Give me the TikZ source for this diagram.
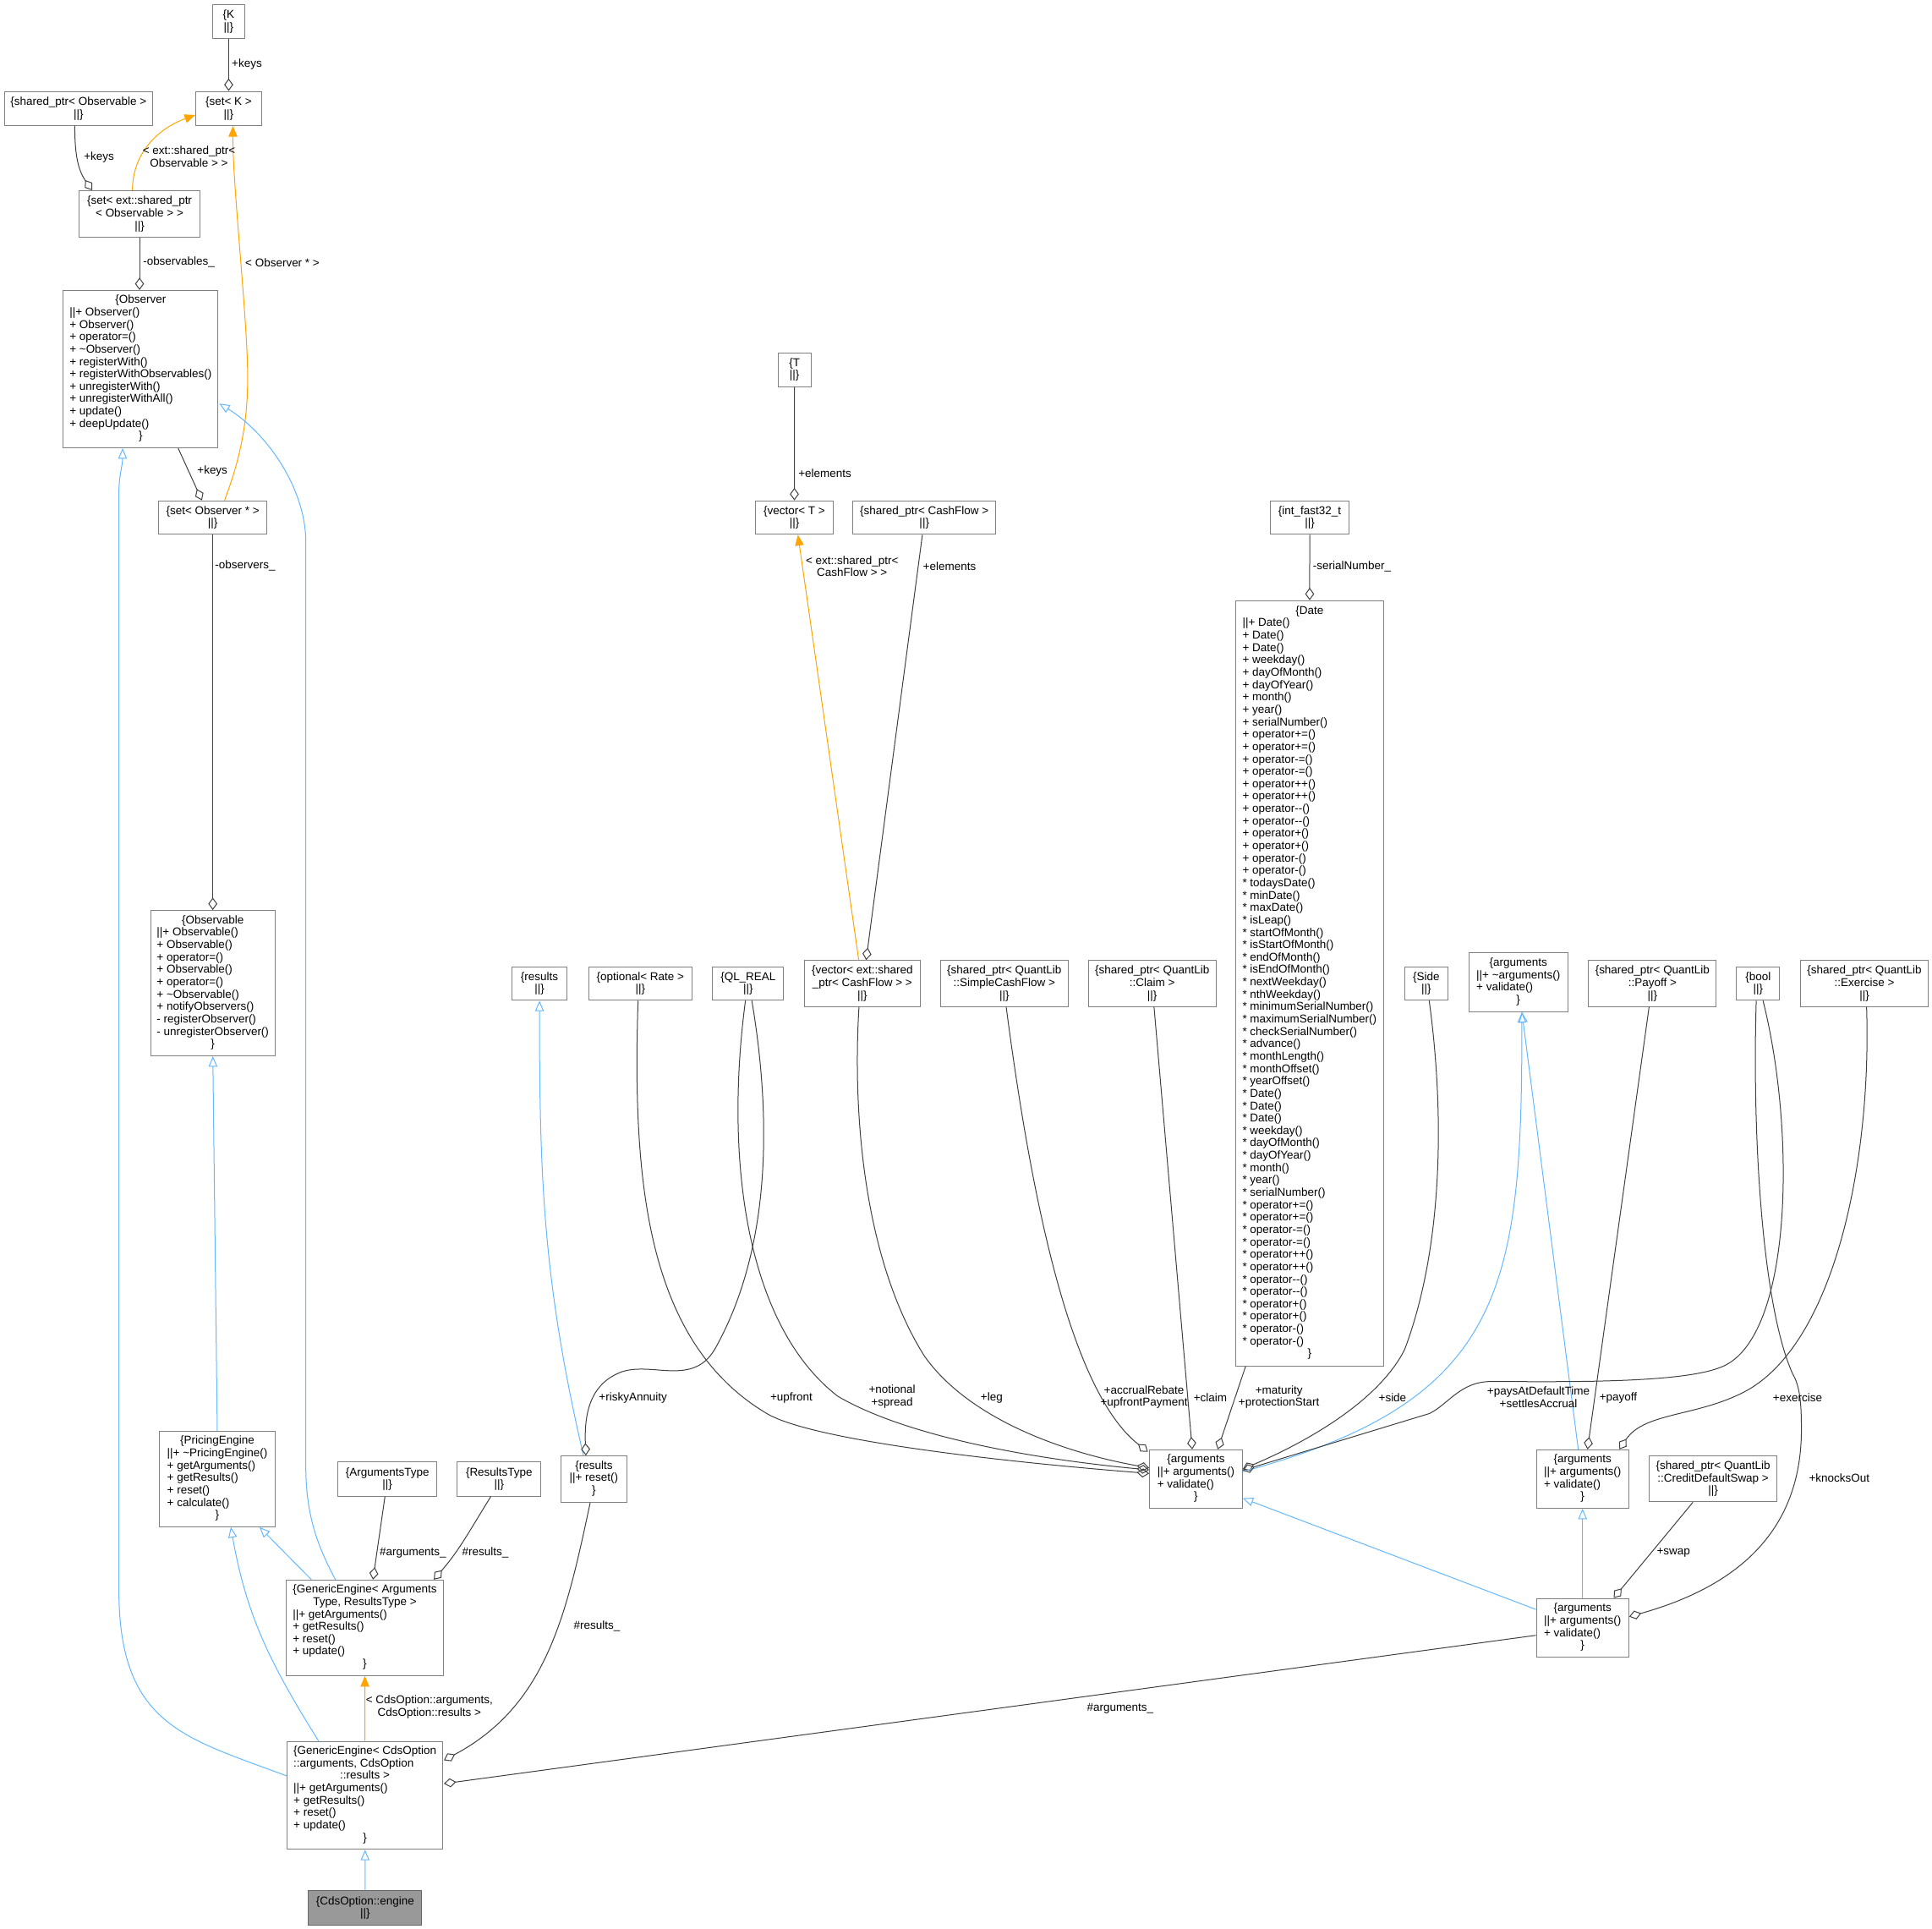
\documentclass[tikz,border=0pt]{standalone}
\usepackage{fontspec}
\setmainfont{Liberation Sans}
\usetikzlibrary{arrows.meta,calc}
\definecolor{edgegray}{HTML}{404040}
\definecolor{inhblue}{HTML}{63B8FF}
\definecolor{tplorange}{HTML}{FFA500}
\definecolor{boxgray}{HTML}{808080}
\definecolor{mainfill}{HTML}{999999}
\definecolor{mainline}{HTML}{666666}
\newcommand{\dxfont}{\fontsize{11.5}{12.5}\selectfont}
\newcommand{\ct}[1]{\multicolumn{1}{@{}c@{}}{#1}}

\begin{document}
\begin{tikzpicture}[
  x=0.4372mm, y=-0.4372mm,
  cls/.style 2 args={draw=boxgray, line width=0.3mm, fill=white, inner sep=0pt, anchor=north west, align=center, font=\dxfont, minimum width=#1*0.4372mm, minimum height=#2*0.4372mm},
  lbl/.style={font=\dxfont, inner sep=0pt, align=center},
  agg/.style={draw=edgegray, line width=0.3mm, -{Diamond[open,length=4.4mm,width=3.2mm]}},
  inh/.style={draw=inhblue, line width=0.3mm, -{Triangle[open,length=3.7mm,width=3.1mm]}},
  tpl/.style={draw=tplorange, line width=0.3mm, -{Triangle[length=3.8mm,width=3.1mm]}}
]
\path[use as bounding box, fill=white] (0,0) rectangle (1568,1565);

% observer side
\node[cls={26.5}{27.7}] (kT) at (172,3.4) {\{K\\||\}};
\node[cls={53.5}{27.7}] (setK) at (158.5,73.8) {\{set< K >\\||\}};
\node[cls={120.3}{27.7}] (spObs) at (3.2,73.8) {\{shared\_ptr< Observable >\\||\}};
\node[cls={98.2}{37.8}] (setExt) at (63.8,154.4) {\{set< ext::shared\_ptr\\< Observable > >\\||\}};
\node[cls={125.6}{127.7}] (observer) at (51,235.3) {\begin{tabular}{@{}l@{}}\ct{\{Observer}\\
||+ Observer()\\
+ Observer()\\
+ operator=()\\
+ \textasciitilde Observer()\\
+ registerWith()\\
+ registerWithObservables()\\
+ unregisterWith()\\
+ unregisterWithAll()\\
+ update()\\
+ deepUpdate()\\
\ct{\}}\end{tabular}};
\node[cls={88.1}{27.3}] (setObsr) at (128.3,406) {\{set< Observer * >\\||\}};
\node[cls={100.8}{118}] (observable) at (122,738.4) {\begin{tabular}{@{}l@{}}\ct{\{Observable}\\
||+ Observable()\\
+ Observable()\\
+ operator=()\\
+ Observable()\\
+ operator=()\\
+ \textasciitilde Observable()\\
+ notifyObservers()\\
- registerObserver()\\
- unregisterObserver()\\
\ct{\}}\end{tabular}};
\node[cls={93.6}{77.6}] (pricing) at (129.2,1160.9) {\begin{tabular}{@{}l@{}}\ct{\{PricingEngine}\\
||+ \textasciitilde PricingEngine()\\
+ getArguments()\\
+ getResults()\\
+ reset()\\
+ calculate()\\
\ct{\}}\end{tabular}};

% engines
\node[cls={80.6}{27.6}] (argsType) at (273.8,1186) {\{ArgumentsType\\||\}};
\node[cls={67.9}{27.6}] (resultsType) at (370.8,1186) {\{ResultsType\\||\}};
\node[cls={53.3}{37.6}] (resultsR) at (455,1181) {\begin{tabular}{@{}l@{}}\ct{\{results}\\
||+ reset()\\
\ct{\}}\end{tabular}};
\node[cls={128.1}{77.5}] (geArgs) at (231.7,1281.7) {\begin{tabular}{@{}l@{}}\ct{\{GenericEngine< Arguments}\\
\ct{Type, ResultsType >}\\
||+ getArguments()\\
+ getResults()\\
+ reset()\\
+ update()\\
\ct{\}}\end{tabular}};
\node[cls={126.5}{87.7}] (geCds) at (232.6,1412.6) {\begin{tabular}{@{}l@{}}\ct{\{GenericEngine< CdsOption}\\
::arguments, CdsOption\\
\ct{::results >}\\
||+ getArguments()\\
+ getResults()\\
+ reset()\\
+ update()\\
\ct{\}}\end{tabular}};
\node[cls={92}{27.9}, fill=mainfill, draw=mainline] (engine) at (250,1533.9) {\{CdsOption::engine\\||\}};

% cash flows and date
\node[cls={27}{27.3}] (tT) at (631,286) {\{T\\||\}};
\node[cls={62.7}{27.3}] (vecT) at (613,406) {\{vector< T >\\||\}};
\node[cls={115.7}{27.3}] (spCF) at (692,406) {\{shared\_ptr< CashFlow >\\||\}};
\node[cls={64.2}{27.3}] (intF) at (1030.5,406) {\{int\_fast32\_t\\||\}};
\node[cls={119.8}{621}] (date) at (1002.6,487) {\begin{tabular}{@{}l@{}}\ct{\{Date}\\
||+ Date()\\
+ Date()\\
+ Date()\\
+ weekday()\\
+ dayOfMonth()\\
+ dayOfYear()\\
+ month()\\
+ year()\\
+ serialNumber()\\
+ operator+=()\\
+ operator+=()\\
+ operator-=()\\
+ operator-=()\\
+ operator++()\\
+ operator++()\\
+ operator-{}-()\\
+ operator-{}-()\\
+ operator+()\\
+ operator+()\\
+ operator-()\\
+ operator-()\\
{*} todaysDate()\\
{*} minDate()\\
{*} maxDate()\\
{*} isLeap()\\
{*} startOfMonth()\\
{*} isStartOfMonth()\\
{*} endOfMonth()\\
{*} isEndOfMonth()\\
{*} nextWeekday()\\
{*} nthWeekday()\\
{*} minimumSerialNumber()\\
{*} maximumSerialNumber()\\
{*} checkSerialNumber()\\
{*} advance()\\
{*} monthLength()\\
{*} monthOffset()\\
{*} yearOffset()\\
{*} Date()\\
{*} Date()\\
{*} Date()\\
{*} weekday()\\
{*} dayOfMonth()\\
{*} dayOfYear()\\
{*} month()\\
{*} year()\\
{*} serialNumber()\\
{*} operator+=()\\
{*} operator+=()\\
{*} operator-=()\\
{*} operator-=()\\
{*} operator++()\\
{*} operator++()\\
{*} operator-{}-()\\
{*} operator-{}-()\\
{*} operator+()\\
{*} operator+()\\
{*} operator-()\\
{*} operator-()\\
\ct{\}}\end{tabular}};

% member types row
\node[cls={45}{27.3}] (resultsTop) at (415,784) {\{results\\||\}};
\node[cls={84}{27.3}] (optRate) at (477.3,784) {\{optional< Rate >\\||\}};
\node[cls={57.7}{27.3}] (qlReal) at (578,784) {\{QL\_REAL\\||\}};
\node[cls={94.2}{37.3}] (vecExt) at (652.4,779) {\{vector< ext::shared\\\_ptr< CashFlow > >\\||\}};
\node[cls={103.5}{37.3}] (spSCF) at (763,779) {\{shared\_ptr< QuantLib\\::SimpleCashFlow >\\||\}};
\node[cls={103.5}{37.3}] (spClaim) at (883,779) {\{shared\_ptr< QuantLib\\::Claim >\\||\}};
\node[cls={35.5}{27.3}] (side) at (1139.5,784) {\{Side\\||\}};
\node[cls={80.6}{47.5}] (argsBase) at (1191.6,773) {\begin{tabular}{@{}l@{}}\ct{\{arguments}\\
||+ \textasciitilde arguments()\\
+ validate()\\
\ct{\}}\end{tabular}};
\node[cls={103.5}{37.3}] (spPayoff) at (1289,779) {\{shared\_ptr< QuantLib\\::Payoff >\\||\}};
\node[cls={35}{27.3}] (boolT) at (1409,784) {\{bool\\||\}};
\node[cls={103.5}{37.3}] (spEx) at (1461,779) {\{shared\_ptr< QuantLib\\::Exercise >\\||\}};

% arguments classes
\node[cls={75.3}{47.5}] (argsL) at (932.6,1176) {\begin{tabular}{@{}l@{}}\ct{\{arguments}\\
||+ arguments()\\
+ validate()\\
\ct{\}}\end{tabular}};
\node[cls={75.1}{47.5}] (argsM) at (1246.5,1176) {\begin{tabular}{@{}l@{}}\ct{\{arguments}\\
||+ arguments()\\
+ validate()\\
\ct{\}}\end{tabular}};
\node[cls={104}{37.3}] (spCDS) at (1338,1181) {\{shared\_ptr< QuantLib\\::CreditDefaultSwap >\\||\}};
\node[cls={75.1}{47.5}] (argsB) at (1246.5,1296.7) {\begin{tabular}{@{}l@{}}\ct{\{arguments}\\
||+ arguments()\\
+ validate()\\
\ct{\}}\end{tabular}};

% connectors, top left
\draw[agg] (kT) -- (setK);
\draw[agg] ($(spObs.south)+(-3,0)$) to[out=-90,in=125] ($(setExt.north west)+(11,0)$);
\draw[tpl] ($(setExt.north west)+(43.7,0)$) to[out=90,in=200] ($(setK.west)+(0,5.3)$);
\draw[agg] (setExt.south) -- (setExt.south |- observer.north);
\draw[agg] ($(observer.south west)+(93.6,0)$) -- ($(setObsr.north)+(-8.8,0)$);
\draw[tpl] ($(setObsr.north)+(9.5,0)$) .. controls (196,370) and (201,340) .. (201,306) .. controls (201,260) and (188.7,150) .. ($(setK.south)+(3.5,0)$);
\draw[agg] (setObsr.south) -- (setObsr.south |- observable.north);
\draw[inh] (pricing.north) -- (observable.south);
\draw[inh] ($(geCds.north west)+(0,28.4)$) .. controls (150,1410) and (96.5,1400) .. (96.5,1290) -- (96.5,400) to[out=90,in=-90] ($(observer.south west)+(48.5,0)$);
\draw[inh] ($(geCds.north west)+(25.9,0)$) to[out=122,in=-80] ($(pricing.south)+(11,0)$);
\draw[inh] ($(geArgs.north west)+(21,0)$) -- ($(pricing.south)+(34.3,0)$);
\draw[inh] ($(geArgs.north west)+(40.5,0)$) .. controls (258,1255) and (248.2,1230) .. (248.2,1190) -- (248.2,440) .. controls (248.2,395) and (215,350) .. ($(observer.east)+(0.7,28)$);

% connectors, engines
\draw[agg] ($(argsType.south)+(-2,0)$) -- ($(geArgs.north)+(6.6,0)$);
\draw[agg] ($(resultsType.south)+(-6.7,0)$) to[out=-122,in=49] ($(geArgs.north)+(56,0)$);
\draw[agg] ($(resultsR.south)+(-3,0)$) to[out=-102,in=28] ($(geCds.north east)+(0.5,15.7)$);
\draw[inh] ($(resultsR.north)+(-8.5,0)$) to[out=103,in=-90] (resultsTop.south);
\draw[agg] ($(qlReal.south)+(3,0)$) .. controls (625,900) and (628,1010) .. (580,1095) .. controls (562,1125) and (530,1105) .. (505,1113) .. controls (480,1122) and (474,1145) .. ($(resultsR.north)+(-6.5,0)$);
\draw[tpl] (geCds) -- (geArgs);
\draw[inh] (engine) -- (geCds);
\draw[agg] ($(argsB.west)+(0,6.15)$) -- ($(geCds.east)+(0.5,-9.5)$);

% connectors, middle
\draw[agg] (tT) -- (vecT);
\draw[tpl] ($(vecExt.north)+(-2.9,0)$) -- ($(vecT.south)+(2.9,0)$);
\draw[agg] ($(spCF.south)+(-1.6,0)$) -- ($(vecExt.north)+(3.1,0)$);
\draw[agg] (intF) -- (date);
\draw[agg] ($(optRate.south)+(-1.8,0)$) .. controls (513,960) and (525,1090) .. (623.4,1147.6) .. controls (660,1168) and (800,1185) .. ($(argsL.west)+(0,-4.5)$);
\draw[agg] ($(qlReal.south)+(-2.2,0)$) .. controls (588,940) and (605,1075) .. (680,1133) .. controls (740,1168) and (850,1185) .. ($(argsL.west)+(0,-7.4)$);
\draw[agg] ($(vecExt.south)+(-2.7,0)$) .. controls (692,900) and (700,1020) .. (750,1100) .. controls (785,1150) and (860,1178) .. ($(argsL.west)+(0,-9)$);
\draw[agg] ($(spSCF.south)+(1.5,0)$) .. controls (838,980) and (870,1130) .. ($(argsL.north west)+(-1,2)$);
\draw[agg] ($(spClaim.south)+(1.5,0)$) -- ($(argsL.north)+(-3,0)$);
\draw[agg] ($(date.south west)+(8.3,0)$) -- ($(argsL.north east)+(-20.3,0)$);
\draw[agg] ($(side.south)+(2.3,0)$) .. controls (1172,900) and (1172,1010) .. (1140,1095) .. controls (1120,1135) and (1065,1168) .. ($(argsL.east)+(0,-8)$);

% connectors, right
\draw[inh] ($(argsL.east)+(0,-6)$) to[out=15,in=-90,looseness=1.3] ($(argsBase.south)+(2.9,0)$);
\draw[inh] ($(argsM.north)+(-3.5,0)$) -- ($(argsBase.south)+(2.9,0)$);
\draw[agg] ($(boolT.south)+(4,0)$) .. controls (1458,920) and (1455,1090) .. (1395,1110) .. controls (1360,1123) and (1260,1121) .. (1210,1121) .. controls (1185,1121) and (1175,1140) .. (1160,1147) -- ($(argsL.east)+(0,-7)$);
\draw[agg] ($(spPayoff.south)+(-2.7,0)$) -- ($(argsM.north)+(4,0)$);
\draw[agg] ($(spEx.south)+(1.8,0)$) .. controls (1519,940) and (1490,1085) .. (1420,1127) .. controls (1380,1150) and (1335,1145) .. ($(argsM.north east)+(-8,0)$);
\draw[agg] ($(boolT.south)+(-1.5,0)$) .. controls (1422,920) and (1430,1060) .. (1455,1115) .. controls (1461,1125) and (1462,1140) .. (1462,1160) .. controls (1462,1250) and (1400,1290) .. ($(argsB.east)+(0,-9)$);
\draw[agg] ($(spCDS.south)+(-16.4,0)$) -- ($(argsB.north)+(25.25,0)$);
\draw[inh] (argsB) -- (argsM);
\draw[inh] ($(argsB.west)+(0,-14.85)$) -- ($(argsL.south east)+(0,-8.5)$);

% edge labels
\node[lbl, anchor=west] (lKeysK) at (188,52) {+keys};
\node[lbl, anchor=west] (lKeysObs) at (68,127.5) {+keys};
\node[lbl] (lExtObs) at (153.4,127.2) {< ext::shared\_ptr<\\Observable > >};
\node[lbl, anchor=west] (lObservables) at (116,213) {-observables\_};
\node[lbl, anchor=west] (lObsPtr) at (199,213) {< Observer * >};
\node[lbl, anchor=west] (lKeysObsr) at (160,382.3) {+keys};
\node[lbl, anchor=west] (lObservers) at (174.4,459.3) {-observers\_};
\node[lbl, anchor=west] (lArgsGe) at (308,1260) {\#arguments\_};
\node[lbl, anchor=west] (lResGe) at (375,1260) {\#results\_};
\node[lbl, anchor=west] (lResCds) at (465.5,1319.8) {\#results\_};
\node[lbl] (lCdsTpl) at (348.5,1385.2) {< CdsOption::arguments,\\CdsOption::results >};
\node[lbl, anchor=west] (lArgsCds) at (882,1386) {\#arguments\_};
\node[lbl, anchor=west] (lRisky) at (486,1134.3) {+riskyAnnuity};
\node[lbl, anchor=west] (lUpfront) at (625,1134.3) {+upfront};
\node[lbl] (lNotional) at (724,1133.3) {+notional\\+spread};
\node[lbl, anchor=west] (lLeg) at (795.8,1134.3) {+leg};
\node[lbl] (lAccrual) at (928.5,1133.6) {+accrualRebate\\+upfrontPayment};
\node[lbl, anchor=west] (lClaim) at (968.6,1134) {+claim};
\node[lbl] (lMaturity) at (1038,1133.6) {+maturity\\+protectionStart};
\node[lbl, anchor=west] (lSide) at (1118.8,1134) {+side};
\node[lbl] (lPays) at (1248.6,1133.6) {+paysAtDefaultTime\\+settlesAccrual};
\node[lbl, anchor=west] (lPayoff) at (1298,1134) {+payoff};
\node[lbl, anchor=west] (lExercise) at (1438.8,1133.8) {+exercise};
\node[lbl, anchor=west] (lKnocks) at (1468,1199.1) {+knocksOut};
\node[lbl, anchor=west] (lSwap) at (1344.5,1260) {+swap};
\node[lbl] (lExtCF) at (691.5,459.5) {< ext::shared\_ptr<\\CashFlow > >};
\node[lbl, anchor=west] (lElemT) at (647.8,384) {+elements};
\node[lbl, anchor=west] (lElemCF) at (749,459.5) {+elements};
\node[lbl, anchor=west] (lSerial) at (1065.5,459.8) {-serialNumber\_};
\end{tikzpicture}
\end{document}
